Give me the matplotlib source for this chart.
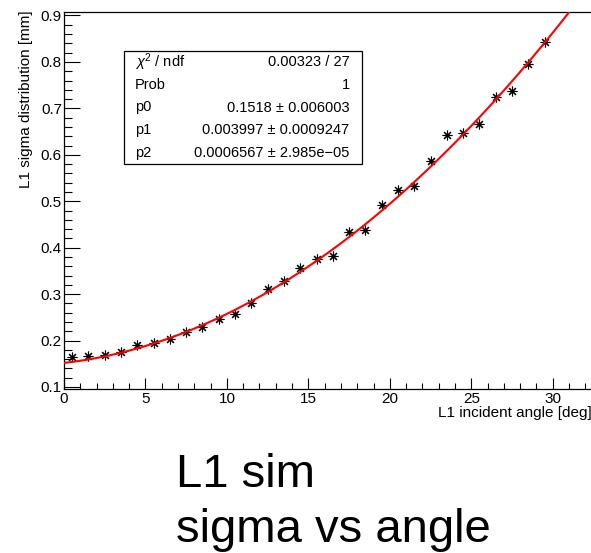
import numpy as np
import matplotlib
matplotlib.use("Agg")
import matplotlib.pyplot as plt
from matplotlib.patches import Rectangle

plt.rcParams['font.family'] = ['Liberation Sans', 'DejaVu Sans']
plt.rcParams['mathtext.fontset'] = 'custom'
plt.rcParams['mathtext.rm'] = 'Liberation Sans'
plt.rcParams['mathtext.it'] = 'Liberation Sans:italic'

# measured points (angle in deg, sigma in mm)
angle = [0.5, 1.5, 2.5, 3.5, 4.5, 5.5, 6.5, 7.5, 8.5, 9.5,
         10.5, 11.5, 12.5, 13.5, 14.5, 15.5, 16.5, 17.5, 18.5, 19.5,
         20.5, 21.5, 22.5, 23.5, 24.5, 25.5, 26.5, 27.5, 28.5, 29.5]
sigma = [0.165, 0.166, 0.168, 0.176, 0.191, 0.195, 0.203, 0.218, 0.230, 0.246,
         0.258, 0.281, 0.310, 0.328, 0.356, 0.375, 0.383, 0.433, 0.439, 0.491,
         0.525, 0.533, 0.587, 0.643, 0.647, 0.667, 0.724, 0.738, 0.795, 0.843]

# pol2 fit parameters from the stats box
p0, p1, p2 = 0.1518, 0.003997, 0.0006567
stat_names = [r'$\chi^{2}$ / ndf', 'Prob', 'p0', 'p1', 'p2']
stat_values = ['0.00323 / 27', '1', '0.1518 ± 0.006003',
               '0.003997 ± 0.0009247', '0.0006567 ± 2.985e\u221205']

W, H = 591, 553
fig = plt.figure(figsize=(W / 100, H / 100), dpi=100)

# axes box in pixels (runs off the right edge like the screenshot)
left, right, top, bottom = 64, 596.7, 11.5, 388.7
ax = fig.add_axes([left / W, 1 - bottom / H, (right - left) / W, (bottom - top) / H])

xmax = 32.7
xx = np.linspace(0, xmax, 200)
ax.plot(xx, np.polyval([p2, p1, p0], xx), color='#ff0000', lw=1.5, zorder=3)
ax.plot(angle, sigma, linestyle='none', marker=(8, 2, 0), markersize=7,
        markeredgewidth=0.8, color='black', zorder=2)

ax.set_xlim(0, xmax)
ax.set_ylim(0.0963, 0.9086)
ax.set_xticks(np.arange(0, 33, 5))
ax.set_xticks(np.arange(0, 33, 1), minor=True)
ax.set_yticks(np.arange(0.1, 0.91, 0.1))
ax.set_yticks(np.arange(0.1, 0.91, 0.02), minor=True)
ax.set_yticklabels([f'{v:.1f}' for v in np.arange(0.1, 0.91, 0.1)])

ax.spines['right'].set_visible(False)
for s in ['left', 'bottom', 'top']:
    ax.spines[s].set_linewidth(0.9)
ax.tick_params(axis='both', which='both', direction='in', labelsize=11, width=0.8)
ax.tick_params(axis='x', which='major', length=7.7, pad=2.5)
ax.tick_params(axis='x', which='minor', length=4)
ax.tick_params(axis='y', which='major', length=11.5, pad=1.5)
ax.tick_params(axis='y', which='minor', length=5.5)

# axis titles, ROOT style (aligned at the axis ends)
fig.text(592 / W, 1 - 417 / H, 'L1 incident angle [deg]', fontsize=11,
         ha='right', va='baseline')
fig.text(26 / W, 1 - 10 / H, 'L1 sigma distribution [mm]', fontsize=11,
         rotation=90, ha='center', va='top')

# stats box
bx0, bx1, by0, by1 = 124, 362, 51, 164
fig.patches.append(Rectangle((bx0 / W, 1 - by1 / H), (bx1 - bx0) / W, (by1 - by0) / H,
                             transform=fig.transFigure, facecolor='white',
                             edgecolor='black', lw=0.9, zorder=5))
row_h = (by1 - by0) / len(stat_names)
for i, (nm, val) in enumerate(zip(stat_names, stat_values)):
    yc = 1 - (by0 + row_h * (i + 0.5)) / H
    fig.text(135 / W, yc, nm, fontsize=10.5, ha='left', va='center', zorder=6)
    fig.text(349.5 / W, yc, val, fontsize=10.5, ha='right', va='center', zorder=6)

# caption under the plot
fig.text(176 / W, 1 - 487 / H, 'L1 sim', fontsize=34, ha='left', va='baseline')
fig.text(176 / W, 1 - 542 / H, 'sigma vs angle', fontsize=34, ha='left', va='baseline')

fig.savefig('out.png', dpi=100)
